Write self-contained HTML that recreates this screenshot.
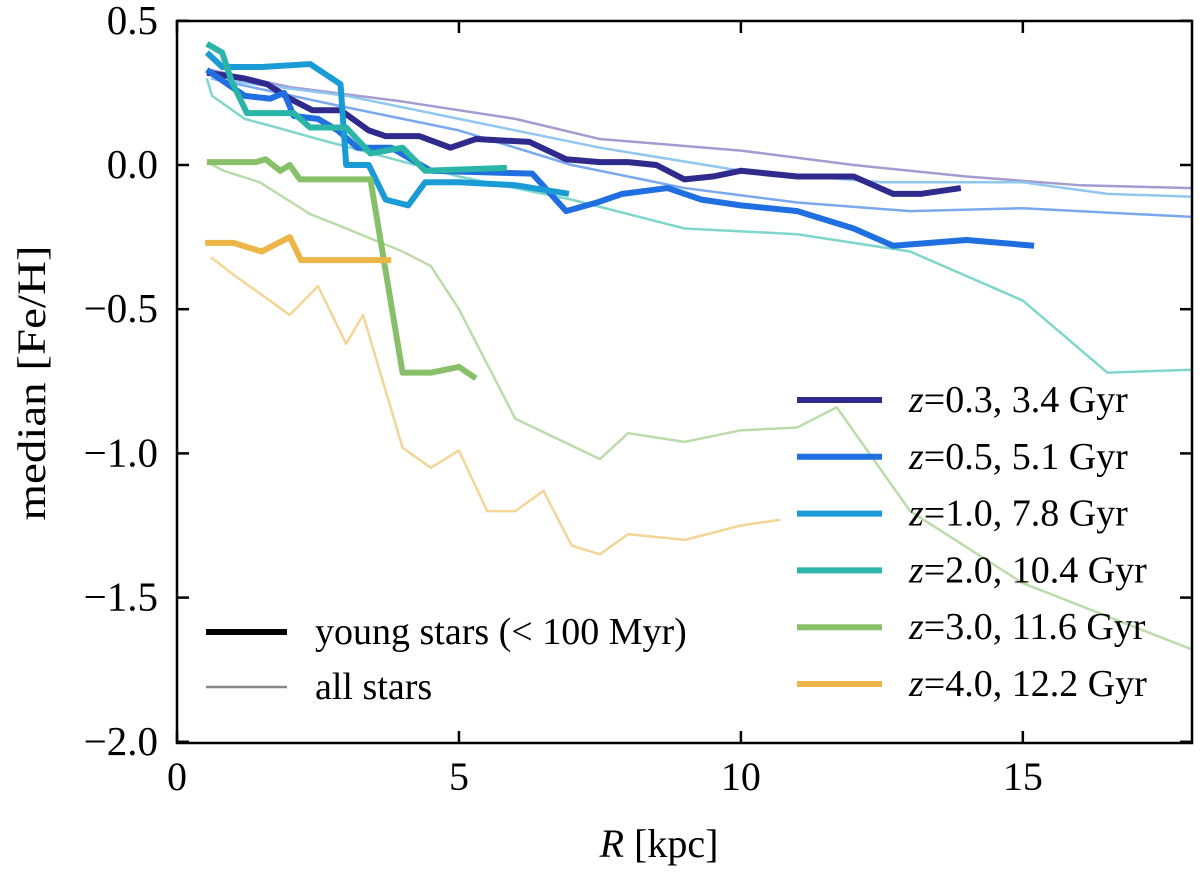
<!DOCTYPE html>
<html><head><meta charset="utf-8"><style>
body{margin:0;background:#fff}
svg text{font-family:"Liberation Serif",serif;fill:#000}
</style></head><body>
<svg id="chart" width="1200" height="871" viewBox="0 0 1200 871">
<g id="marks"></g>
<rect x="177" y="21" width="1015" height="722" fill="none" stroke="#000" stroke-width="2.5"/>
<g id="axes"></g>
<text x="659" y="857" font-size="40" text-anchor="middle"><tspan font-style="italic">R</tspan> [kpc]</text>
<text transform="translate(45,383) rotate(-90)" font-size="40" text-anchor="middle" textLength="275" lengthAdjust="spacingAndGlyphs">median [Fe/H]</text>
<g id="legend"></g>
</svg>
<script>
const xTicks=[0,5,10,15];
const yTicks=[0.5,0.0,-0.5,-1.0,-1.5,-2.0];
const yTickLabels=["0.5","0.0","\u22120.5","\u22121.0","\u22121.5","\u22122.0"];
const seriesNames=["z=0.3, 3.4 Gyr","z=0.5, 5.1 Gyr","z=1.0, 7.8 Gyr","z=2.0, 10.4 Gyr","z=3.0, 11.6 Gyr","z=4.0, 12.2 Gyr"];
const colors=["#2f2a8c","#1f6fe0","#1b9bd6","#2ab5a8","#88c06a","#ecb548"];
const thinColors=["#a49bd0","#7aa8ee","#8fc7ee","#7fd6cc","#bbdcaa","#f4d596"];
const young03=[[0.53,0.32],[1.2,0.3],[1.6,0.28],[2.0,0.23],[2.4,0.19],[2.9,0.19],[3.4,0.12],[3.7,0.1],[4.3,0.1],[4.85,0.06],[5.3,0.09],[6.25,0.08],[6.9,0.02],[7.5,0.01],[8.0,0.01],[8.5,0.0],[9.0,-0.05],[9.5,-0.04],[10,-0.02],[11,-0.04],[12,-0.04],[12.7,-0.1],[13.2,-0.1],[13.9,-0.08]];
const all03=[[0.6,0.33],[2,0.27],[4,0.22],[6,0.16],[7.5,0.09],[10,0.05],[12,0.0],[14,-0.04],[16,-0.07],[18,-0.08]];
const young05=[[0.53,0.33],[0.9,0.28],[1.2,0.24],[1.65,0.23],[1.9,0.25],[2.07,0.17],[2.5,0.16],[2.85,0.12],[3.2,0.06],[3.8,0.06],[4.5,-0.02],[6.3,-0.03],[6.9,-0.16],[7.45,-0.13],[7.9,-0.1],[8.7,-0.08],[9.3,-0.12],[10,-0.14],[11,-0.16],[12,-0.22],[12.7,-0.28],[14,-0.26],[15.2,-0.28]];
const all05=[[0.6,0.3],[3,0.2],[5,0.12],[7,0.0],[9,-0.08],[11,-0.13],[13,-0.16],[15,-0.15],[18,-0.18]];
const young10=[[0.53,0.39],[0.8,0.34],[1.5,0.34],[2.36,0.35],[2.9,0.28],[3.0,0.0],[3.4,0.0],[3.7,-0.12],[4.1,-0.14],[4.4,-0.06],[5,-0.06],[6,-0.07],[6.95,-0.1]];
const all10=[[0.6,0.3],[3,0.24],[5,0.16],[7.5,0.06],[10,-0.02],[12.5,-0.06],[15,-0.06],[16.5,-0.1],[18,-0.11]];
const young20=[[0.53,0.42],[0.8,0.39],[0.97,0.29],[1.24,0.18],[2.07,0.18],[2.36,0.13],[3.0,0.13],[3.43,0.04],[4.0,0.06],[4.4,-0.02],[5.85,-0.01]];
const all20=[[0.53,0.3],[0.62,0.24],[1.2,0.16],[1.77,0.13],[2.5,0.09],[5,-0.04],[7,-0.12],[9,-0.22],[11,-0.24],[13,-0.3],[15,-0.47],[16.5,-0.72],[18,-0.71]];
const young30=[[0.53,0.01],[1.4,0.01],[1.57,0.02],[1.83,-0.02],[2.0,0.0],[2.18,-0.05],[3.43,-0.05],[4.0,-0.72],[4.5,-0.72],[5.0,-0.7],[5.3,-0.74]];
const all30=[[0.53,0.01],[0.83,-0.02],[1.47,-0.06],[2.36,-0.17],[3,-0.22],[4,-0.3],[4.5,-0.35],[5,-0.5],[6,-0.88],[7.5,-1.02],[8,-0.93],[9,-0.96],[10,-0.92],[11,-0.91],[11.7,-0.84],[13,-1.2],[15,-1.45],[18,-1.68]];
const young40=[[0.5,-0.27],[1,-0.27],[1.5,-0.3],[2,-0.25],[2.2,-0.33],[3.8,-0.33]];
const all40=[[0.6,-0.32],[1,-0.38],[1.5,-0.45],[2,-0.52],[2.5,-0.42],[3,-0.62],[3.3,-0.52],[4,-0.98],[4.5,-1.05],[5,-0.99],[5.5,-1.2],[6,-1.2],[6.5,-1.13],[7,-1.32],[7.5,-1.35],[8,-1.28],[9,-1.3],[10,-1.25],[10.7,-1.23]];
const youngSets=[young03,young05,young10,young20,young30,young40];
const allSets=[all03,all05,all10,all20,all30,all40];
const X=v=>177+v*(1015/18);
const Y=v=>165-v*288.4;
const NS="http://www.w3.org/2000/svg";
function mk(tag,attrs,parent){const e=document.createElementNS(NS,tag);for(const k in attrs)e.setAttribute(k,attrs[k]);parent.appendChild(e);return e;}
const marks=document.getElementById('marks'),axes=document.getElementById('axes'),leg=document.getElementById('legend');
const clip=mk('clipPath',{id:'pc'},marks);mk('rect',{x:177,y:21,width:1015,height:722},clip);
const g=mk('g',{'clip-path':'url(#pc)'},marks);
allSets.forEach((s,i)=>{const p=mk('polyline',{points:s.map(d=>X(d[0])+','+Y(d[1])).join(' '),fill:'none',stroke:thinColors[i],'stroke-width':2.5,'stroke-linejoin':'round'},g);

});
youngSets.forEach((s,i)=>{const p=mk('polyline',{points:s.map(d=>X(d[0])+','+Y(d[1])).join(' '),fill:'none',stroke:colors[i],'stroke-width':6,'stroke-linejoin':'round'},g);

});
xTicks.forEach(t=>{mk('line',{x1:X(t),x2:X(t),y1:743,y2:731,stroke:'#000','stroke-width':2.5},axes);
mk('line',{x1:X(t),x2:X(t),y1:21,y2:33,stroke:'#000','stroke-width':2.5},axes);
const tx=mk('text',{x:X(t),y:790,'font-size':40,'text-anchor':'middle'},axes);tx.textContent=t;

});
yTicks.forEach((t,i)=>{mk('line',{x1:177,x2:189,y1:Y(t),y2:Y(t),stroke:'#000','stroke-width':2.5},axes);
mk('line',{x1:1180,x2:1192,y1:Y(t),y2:Y(t),stroke:'#000','stroke-width':2.5},axes);
const tx=mk('text',{x:158,y:Y(t)+13,'font-size':41,'text-anchor':'end'},axes);tx.textContent=yTickLabels[i];

});
seriesNames.forEach((n,i)=>{const y=400+i*56.8;
const l=mk('line',{x1:797,x2:882,y1:y,y2:y,stroke:colors[i],'stroke-width':6},leg);


const t=mk('text',{x:909,y:y+12,'font-size':38},leg);
const parts=n.split('=');
t.innerHTML='<tspan font-style="italic">z</tspan>='+parts[1];

});
[[632,6,'#000','young stars (< 100 Myr)'],[687,2.5,'#888','all stars']].forEach((r,i)=>{
const l=mk('line',{x1:206,x2:287,y1:r[0],y2:r[0],stroke:r[2],'stroke-width':r[1]},leg);


const t=mk('text',{x:315,y:r[0]+12,'font-size':38},leg);t.textContent=r[3];

});
</script>
</body></html>
